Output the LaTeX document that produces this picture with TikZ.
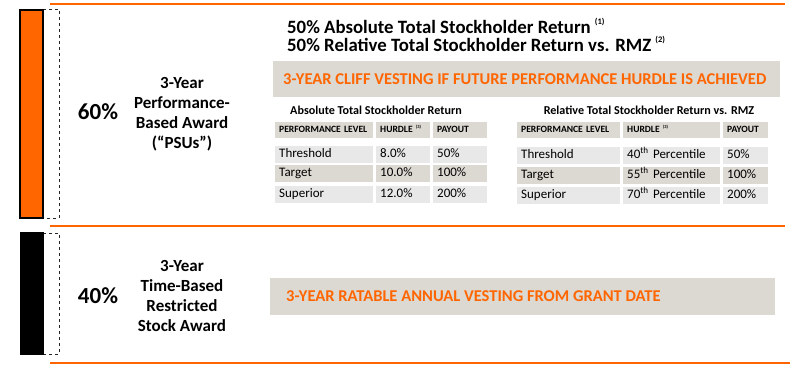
\documentclass[tikz,border=0pt]{standalone}
\usepackage{fontspec}
\setmainfont{Carlito}
\definecolor{org}{HTML}{FF6600}
\definecolor{band}{HTML}{DCD8D2}
\definecolor{lite}{HTML}{E8E8E8}
\newcommand\hdrfnt{\fontsize{9.6}{11}\selectfont\bfseries}
\newcommand\celfnt{\fontsize{13}{15}\selectfont}
\newcommand\tinysup[1]{\raisebox{0.45em}{\fontsize{4.5}{5}\selectfont #1}}
\begin{document}
\begin{tikzpicture}[x=1pt,y=-1pt,
  rule/.style={draw=org, line width=1.4pt},
  barbox/.style={draw=black, line width=1.4pt},
  dashbox/.style={draw=black!85, dashed, line width=0.9pt},
  cell/.style={anchor=north west, inner xsep=4pt, inner ysep=0pt, align=left, text height=0.72em, text depth=0.2em},
  hcell/.style={cell, fill=band, minimum height=16pt, font=\hdrfnt},
  dcell/.style={cell, minimum height=17pt, font=\celfnt},
  pct/.style={font=\fontsize{23}{25}\selectfont\bfseries},
  label/.style={font=\fontsize{17}{20}\selectfont\bfseries, align=center},
  headline/.style={anchor=base west, font=\fontsize{18.8}{21}\selectfont\bfseries, inner sep=0pt},
  vest/.style={anchor=west, font=\fontsize{16.5}{19}\selectfont\bfseries, text=org, inner sep=0pt},
  ttitle/.style={font=\fontsize{12.1}{14}\selectfont\bfseries}
]
\useasboundingbox (0,0) rectangle (790,365);

% orange rules
\coordinate (r1a) at (50,4);   \coordinate (r1b) at (785,4);
\coordinate (r2a) at (50,226); \coordinate (r2b) at (785,226);
\coordinate (r3a) at (50,363); \coordinate (r3b) at (790,363);
\draw[rule] (r1a) -- (r1b);
\draw[rule] (r2a) -- (r2b);
\draw[rule] (r3a) -- (r3b);

% bars
\draw[dashbox] (43,9) -- (59,9) -- (59,218) -- (43,218);
\draw[barbox, fill=org] (20,10) rectangle (43,218);
\draw[dashbox] (43,233) -- (59,233) -- (59,354) -- (43,354);
\draw[barbox, fill=black] (21,233) rectangle (43,354);

% left labels
\node[pct] (p60) at (98,112) {60\%};
\node[label] (psu) at (182,114) {3-Year\\Performance-\\Based Award\\(“PSUs”)};
\node[pct] (p40) at (98,296) {40\%};
\node[label] (rsa) at (182,296) {3-Year\\Time-Based\\Restricted\\Stock Award};

% headlines
\node[headline] (h1) at (287,33) {50\% Absolute Total Stockholder Return \raisebox{0.45em}{\fontsize{8.5}{9}\selectfont(1)}};
\node[headline] (h2) at (287,51) {50\% Relative Total Stockholder Return vs. RMZ \raisebox{0.45em}{\fontsize{8.5}{9}\selectfont(2)}};

% cliff band
\node[fill=band, anchor=north west, minimum width=507pt, minimum height=36pt, inner sep=0pt] (cliff) at (273,61) {};
\node[vest] (cliffT) at (283,79) {3-YEAR CLIFF VESTING IF FUTURE PERFORMANCE HURDLE IS ACHIEVED};

% table titles
\node[ttitle] (t1) at (376,110) {Absolute Total Stockholder Return};
\node[ttitle] (t2) at (649,110) {Relative Total Stockholder Return vs. RMZ};

% left table
\node[hcell, text width=90pt] (a01) at (275,122) {PERFORMANCE LEVEL};
\node[hcell, text width=46pt] (a02) at (376,122) {HURDLE \tinysup{(3)}};
\node[hcell, text width=46pt] (a03) at (433,122) {PAYOUT};
\node[dcell, fill=lite, text width=90pt] (a11) at (275,146) {Threshold};
\node[dcell, fill=lite, text width=46pt] (a12) at (376,146) {8.0\%};
\node[dcell, fill=lite, text width=46pt] (a13) at (433,146) {50\%};
\node[dcell, fill=band, text width=90pt] (a21) at (275,165) {Target};
\node[dcell, fill=band, text width=46pt] (a22) at (376,165) {10.0\%};
\node[dcell, fill=band, text width=46pt] (a23) at (433,165) {100\%};
\node[dcell, fill=lite, text width=90pt] (a31) at (275,186) {Superior};
\node[dcell, fill=lite, text width=46pt] (a32) at (376,186) {12.0\%};
\node[dcell, fill=lite, text width=46pt] (a33) at (433,186) {200\%};

% right table
\node[hcell, text width=95pt] (b01) at (517,122) {PERFORMANCE LEVEL};
\node[hcell, text width=89pt] (b02) at (623,122) {HURDLE \tinysup{(3)}};
\node[hcell, text width=37pt] (b03) at (723,122) {PAYOUT};
\node[dcell, fill=lite, text width=95pt] (b11) at (517,147) {Threshold};
\node[dcell, fill=lite, text width=89pt] (b12) at (623,147) {40\textsuperscript{th} Percentile};
\node[dcell, fill=lite, text width=37pt] (b13) at (723,147) {50\%};
\node[dcell, fill=band, text width=95pt] (b21) at (517,167) {Target};
\node[dcell, fill=band, text width=89pt] (b22) at (623,167) {55\textsuperscript{th} Percentile};
\node[dcell, fill=band, text width=37pt] (b23) at (723,167) {100\%};
\node[dcell, fill=lite, text width=95pt] (b31) at (517,187) {Superior};
\node[dcell, fill=lite, text width=89pt] (b32) at (623,187) {70\textsuperscript{th} Percentile};
\node[dcell, fill=lite, text width=37pt] (b33) at (723,187) {200\%};

% ratable band
\node[fill=band, anchor=north west, minimum width=505pt, minimum height=37pt, inner sep=0pt] (rat) at (270,278) {};
\node[vest] (ratT) at (286,296) {3-YEAR RATABLE ANNUAL VESTING FROM GRANT DATE};
\end{tikzpicture}
\end{document}
